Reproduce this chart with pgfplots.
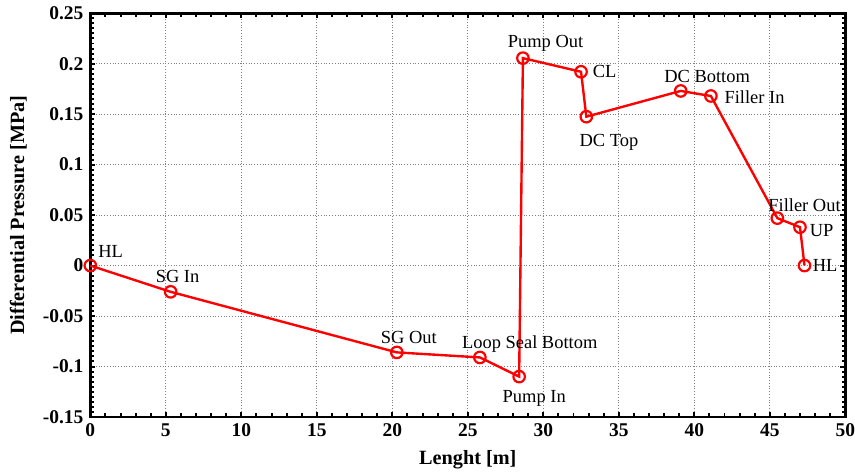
\documentclass[border=0pt]{standalone}
\usepackage{pgfplots}
\pgfplotsset{compat=1.18}
\usepackage{fontspec}
\setmainfont{Liberation Serif}
\begin{document}
\begin{tikzpicture}
\begin{axis}[
  scale only axis,
  width=380.5pt, height=203.5pt,
  xmin=0, xmax=50, ymin=-0.15, ymax=0.25,
  xtick={0,5,...,50},
  ytick={-0.15,-0.1,-0.05,0,0.05,0.1,0.15,0.2,0.25},
  yticklabels={-0.15,-0.1,-0.05,0,0.05,0.1,0.15,0.2,0.25},
  minor x tick num=4,
  minor y tick num=9,
  tick align=inside,
  major tick length=2.5pt,
  minor tick length=1.8pt,
  every tick/.style={black, line width=1pt},
  axis line style={line width=1.4pt},
  grid=major,
  major grid style={densely dotted, gray, line width=0.4pt},
  /pgf/number format/assume math mode=true,
  ticklabel style={font=\fontsize{9.8}{11}\selectfont\bfseries},
  xticklabel style={inner xsep=0pt},
  xlabel={Lenght [m]},
  ylabel={Differential Pressure [MPa]},
  label style={font=\fontsize{10.2}{12}\selectfont\bfseries},
  xlabel style={yshift=0pt},
  ylabel style={yshift=-0.5pt, inner ysep=5pt},
  clip=false,
]
\addplot[red, line width=1.2pt, mark=o, mark size=2.9pt, mark options={line width=1.1pt}] coordinates {
(0,0) (5.32,-0.026) (20.3,-0.086) (25.8,-0.091) (28.4,-0.110)
(28.65,0.2055) (32.5,0.192) (32.85,0.1475) (39.1,0.173) (41.1,0.168)
(45.5,0.047) (47.0,0.038) (47.3,0.0)
};
\begin{scope}[every node/.style={font=\fontsize{9.3}{11}\selectfont, inner sep=0pt}]
\node[anchor=west] at (axis cs:0.5,0.0135) {HL};
\node at (axis cs:5.78,-0.011) {SG In};
\node at (axis cs:21.1,-0.071) {SG Out};
\node at (axis cs:29.1,-0.078) {Loop Seal Bottom};
\node at (axis cs:29.4,-0.132) {Pump In};
\node at (axis cs:30.15,0.2205) {Pump Out};
\node[anchor=west] at (axis cs:33.25,0.192) {CL};
\node at (axis cs:34.35,0.122) {DC Top};
\node at (axis cs:40.85,0.187) {DC Bottom};
\node[anchor=west] at (axis cs:41.98,0.167) {Filler In};
\node at (axis cs:47.3,0.060) {Filler Out};
\node[anchor=west] at (axis cs:47.63,0.035) {UP};
\node[anchor=west] at (axis cs:47.83,0.0) {HL};
\end{scope}
\end{axis}
\end{tikzpicture}
\end{document}
